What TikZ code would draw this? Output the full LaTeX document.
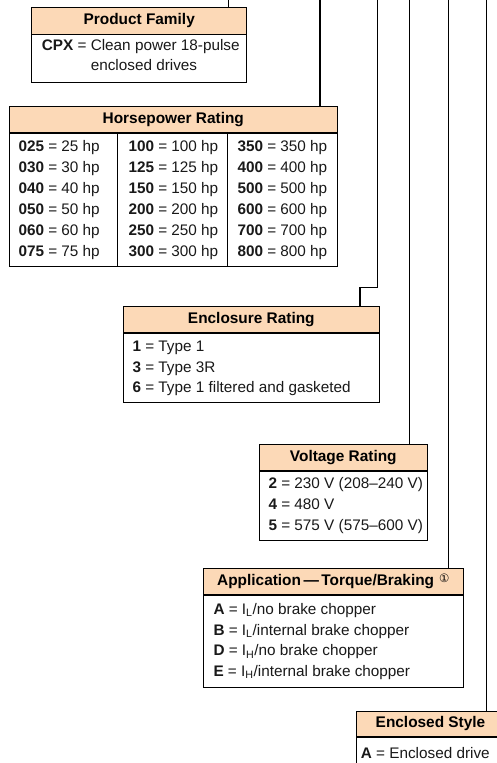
\documentclass[tikz,border=0pt]{standalone}
\usepackage{fontspec}
\setmainfont{Liberation Sans}
\newfontfamily\symfont{DejaVu Sans}
\definecolor{hdrfill}{RGB}{252,217,183}
\definecolor{txt}{RGB}{25,25,25}
\begin{document}
\begin{tikzpicture}[x=1pt,y=-1pt,
  hdrbox/.style={draw=black, line width=0.9pt, fill=hdrfill, inner sep=0pt,
    font=\fontsize{15.4}{18}\selectfont\bfseries, text=black},
  bodybox/.style={draw=black, line width=0.9pt, fill=white, inner sep=0pt, anchor=north},
  row/.style={anchor=base west, inner sep=0pt, font=\fontsize{15.3}{18}\selectfont, text=txt},
  conn/.style={draw=black, line width=1.35pt},
  divider/.style={draw=black, line width=0.9pt}]
\useasboundingbox (0,0) rectangle (497,763);
\clip (0,0) rectangle (497,763);

% connector start points
\coordinate (t1) at (228.7,0);
\coordinate (t2) at (320,0);
\coordinate (t3) at (377.3,0);
\coordinate (j3) at (360,287.3);
\coordinate (t4) at (409.7,0);
\coordinate (t5) at (448.2,0);
\coordinate (t6) at (486.3,0);

% Product Family
\node[hdrbox, minimum width=215pt, minimum height=26.7pt] (pfh) at (139.2,20.65) {Product Family};
\node[bodybox, minimum width=215pt, minimum height=48pt] (pfb) at (pfh.south) {};
\node[row] (pf1) at (41.7,50.4) {\textbf{CPX} = Clean power 18-pulse};
\node[row] (pf2) at (41.7,70.4) {\phantom{\textbf{CPX} = }enclosed drives};

% Horsepower Rating
\node[hdrbox, minimum width=328pt, minimum height=26pt] (hph) at (173.3,119.7) {Horsepower Rating};
\node[bodybox, minimum width=328pt, minimum height=133.3pt] (hpb) at (hph.south) {};
\draw[divider] ([xshift=109pt]hpb.north west) -- ([xshift=109pt]hpb.south west);
\draw[divider] ([xshift=218.4pt]hpb.north west) -- ([xshift=218.4pt]hpb.south west);
\foreach \a/\b [count=\i from 0] in {025/25,030/30,040/40,050/50,060/60,075/75}{
  \node[row] (hpa\i) at (18.3,151.4+21*\i) {\textbf{\a} = \b\ hp};
}
\foreach \a [count=\i from 0] in {100,125,150,200,250,300}{
  \node[row] (hpm\i) at (128.3,151.4+21*\i) {\textbf{\a} = \a\ hp};
}
\foreach \a [count=\i from 0] in {350,400,500,600,700,800}{
  \node[row] (hpc\i) at (237.3,151.4+21*\i) {\textbf{\a} = \a\ hp};
}

% Enclosure Rating
\node[hdrbox, minimum width=256pt, minimum height=25.6pt] (ench) at (251.3,319.5) {Enclosure Rating};
\node[bodybox, minimum width=256pt, minimum height=69.4pt] (encb) at (ench.south) {};
\node[row] (enc1) at (132.3,351.4) {\textbf{1} = Type 1};
\node[row] (enc2) at (132.3,372.0) {\textbf{3} = Type 3R};
\node[row] (enc3) at (132.3,392.7) {\textbf{6} = Type 1 filtered and gasketed};

% Voltage Rating
\node[hdrbox, minimum width=168pt, minimum height=26pt] (volh) at (343.3,457.3) {Voltage Rating};
\node[bodybox, minimum width=168pt, minimum height=69.7pt] (volb) at (volh.south) {};
\node[row] (vol1) at (268.3,488.0) {\textbf{2} = 230 V (208--240 V)};
\node[row] (vol2) at (268.3,509.2) {\textbf{4} = 480 V};
\node[row] (vol3) at (268.3,530.3) {\textbf{5} = 575 V (575--600 V)};

% Application
\node[hdrbox, minimum width=260pt, minimum height=26pt] (apph) at (333.3,581.3)
  {Application\hspace{2.5pt}---\hspace{2.5pt}Torque/Braking\hspace{5pt}{\raisebox{2.5pt}{\symfont\fontsize{11.5}{12}\selectfont\mdseries ①}}};
\node[bodybox, minimum width=260pt, minimum height=92.4pt] (appb) at (apph.south) {};
\node[row] (app1) at (213.3,614.4) {\textbf{A} = I\textsubscript{L}/no brake chopper};
\node[row] (app2) at (213.3,635.0) {\textbf{B} = I\textsubscript{L}/internal brake chopper};
\node[row] (app3) at (213.3,655.6) {\textbf{D} = I\textsubscript{H}/no brake chopper};
\node[row] (app4) at (213.3,676.2) {\textbf{E} = I\textsubscript{H}/internal brake chopper};

% Enclosed Style
\node[hdrbox, minimum width=149pt, minimum height=25.7pt] (esh) at (430.5,723.85) {Enclosed Style};
\node[bodybox, minimum width=149pt, minimum height=50pt] (esb) at (esh.south) {};
\node[row] (es1) at (360.7,758.3) {\textbf{A} = Enclosed drive};

% connectors
\draw[conn] (t1) -- (t1 |- pfh.north);
\draw[conn] (t2) -- (t2 |- hph.north);
\draw[conn] (t3) |- (j3) -- (j3 |- ench.north);
\draw[conn] (t4) -- (t4 |- volh.north);
\draw[conn] (t5) -- (t5 |- apph.north);
\draw[conn] (t6) -- (t6 |- esh.north);
\end{tikzpicture}
\end{document}
